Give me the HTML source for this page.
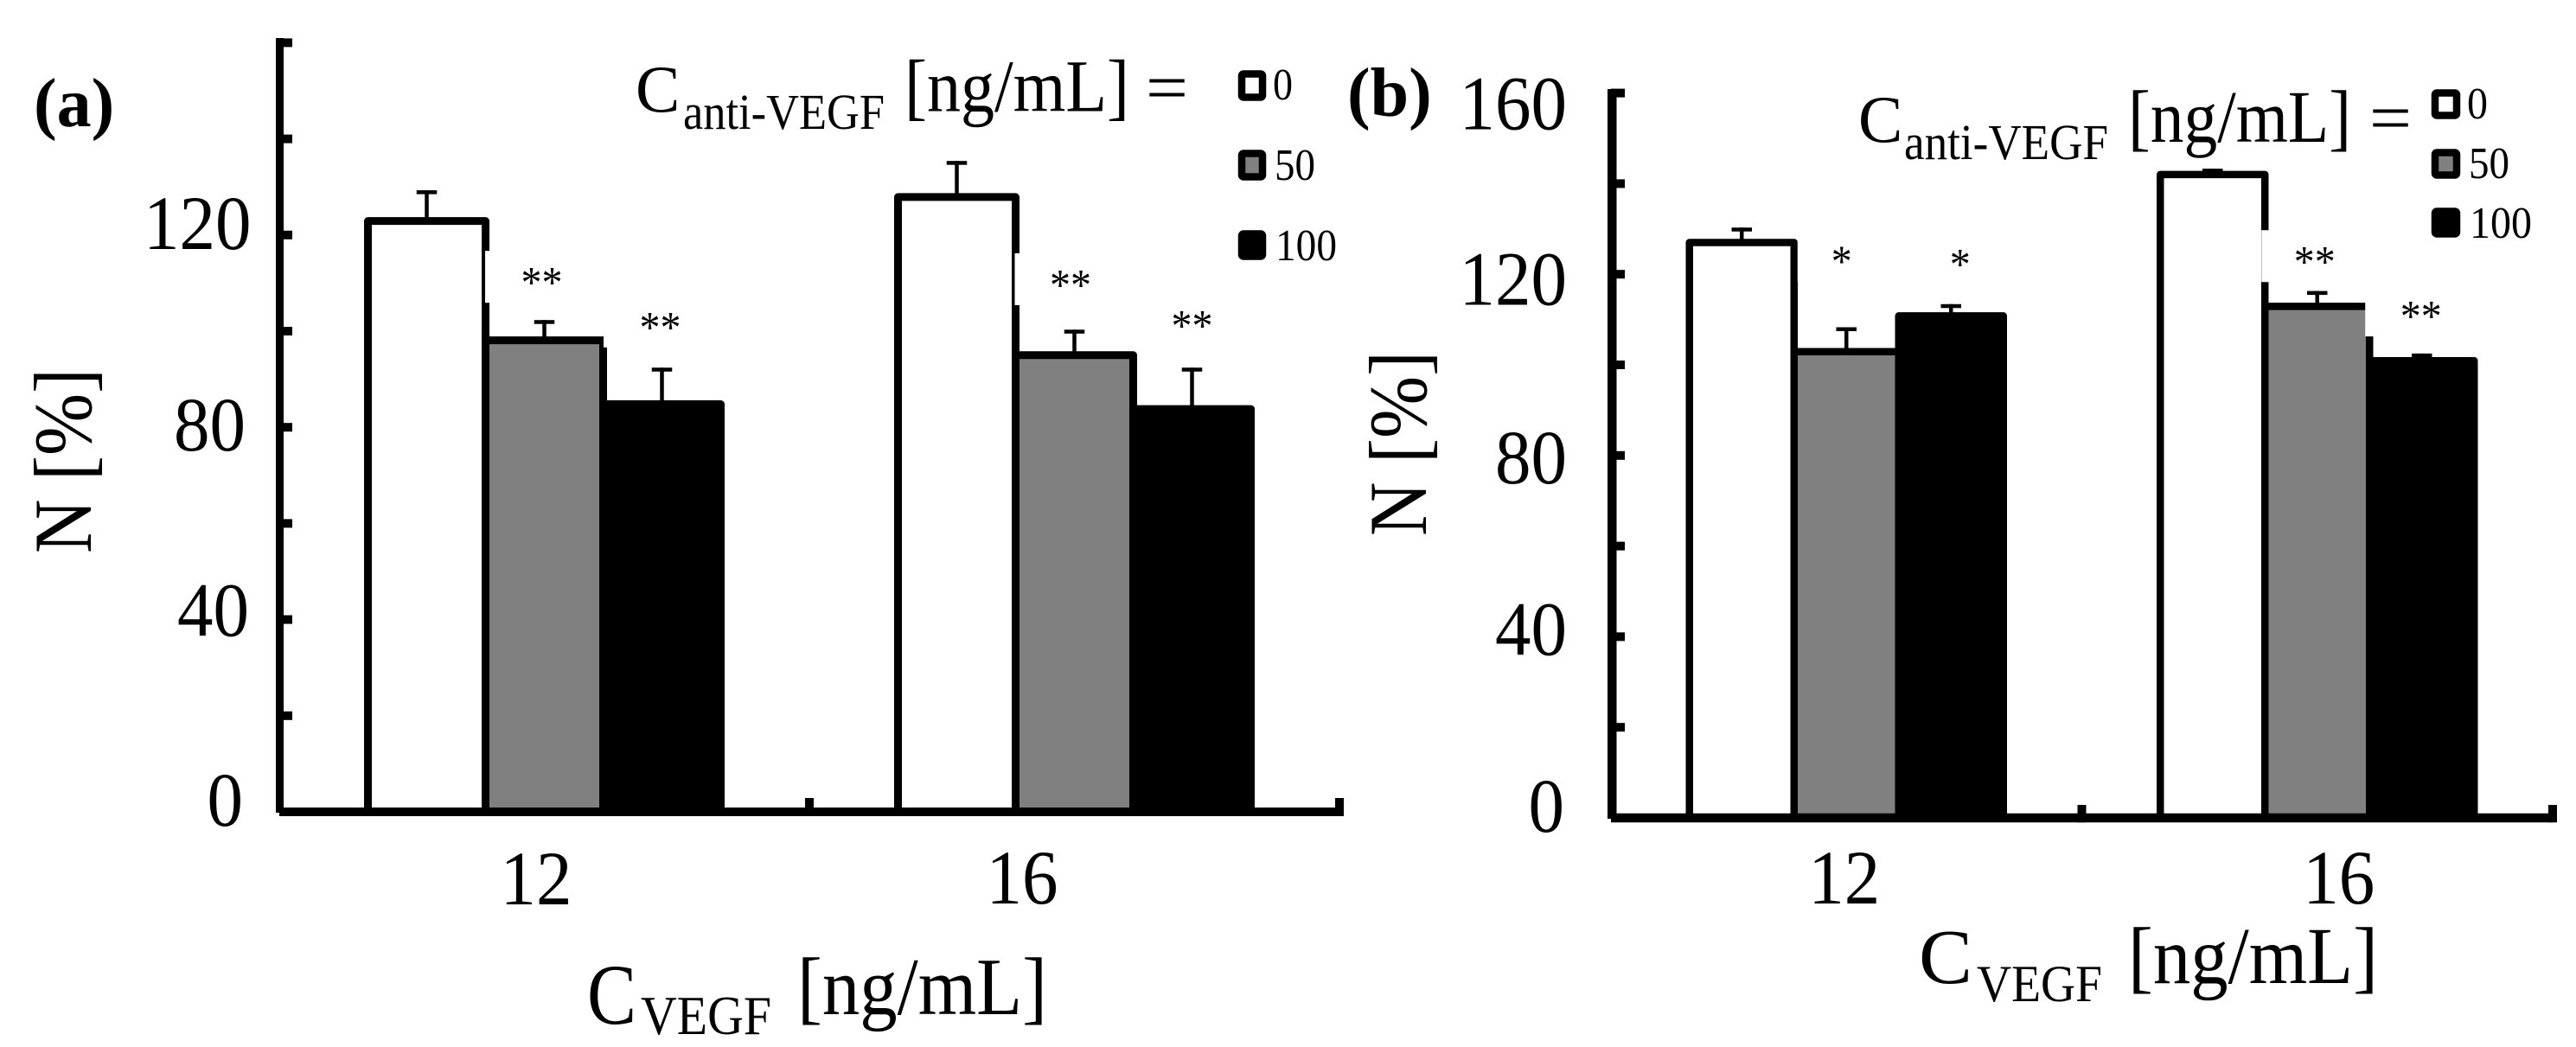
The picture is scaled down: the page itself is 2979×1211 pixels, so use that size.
<!DOCTYPE html>
<html lang="en">
<head>
<meta charset="utf-8">
<title>N versus VEGF concentration</title>
<style>
html,body{margin:0;padding:0;background:#fff;width:2979px;height:1211px;overflow:hidden}
svg{display:block}
text{font-family:"Liberation Serif",serif;fill:#000}
</style>
</head>
<body>
<svg id="figure" xmlns="http://www.w3.org/2000/svg" width="2979" height="1211" viewBox="0 0 2979 1211">
  <rect x="0" y="0" width="2979" height="1211" fill="#fff"/>

  <g id="panel-a"></g>
  <g id="panel-b"></g>

  <!-- panel a static text -->
  <text x="39" y="146" font-size="80" font-weight="bold">(a)</text>
  <text transform="translate(105,640) rotate(-90)" font-size="95" textLength="214" lengthAdjust="spacingAndGlyphs">N [%]</text>
  <g>
    <text x="679" y="1184" font-size="100" textLength="57" lengthAdjust="spacingAndGlyphs">C</text>
    <text x="741" y="1196" font-size="63" textLength="151" lengthAdjust="spacingAndGlyphs">VEGF</text>
    <text x="922" y="1173" font-size="94" textLength="289" lengthAdjust="spacingAndGlyphs">[ng/mL]</text>
  </g>
  <g>
    <text x="735" y="129" font-size="77">C</text>
    <text x="790" y="149" font-size="58" textLength="233" lengthAdjust="spacingAndGlyphs">anti-VEGF</text>
    <text x="1046" y="128.5" font-size="86" textLength="260" lengthAdjust="spacingAndGlyphs">[ng/mL]</text>
    <text x="1325" y="128" font-size="80" textLength="49" lengthAdjust="spacingAndGlyphs">=</text>
  </g>
  <g>
    <g>
      <rect x="1436" y="85.5" width="24" height="27" rx="2" fill="#fff" stroke="#000" stroke-width="8.5"/>
      <text x="1472" y="115" font-size="52" textLength="23" lengthAdjust="spacingAndGlyphs">0</text>
    </g>
    <g>
      <rect x="1436" y="177.5" width="24" height="27" rx="2" fill="#808080" stroke="#000" stroke-width="8.5"/>
      <text x="1474" y="208" font-size="52" textLength="47" lengthAdjust="spacingAndGlyphs">50</text>
    </g>
    <g>
      <rect x="1436" y="270.5" width="24" height="26" rx="2" fill="#000" stroke="#000" stroke-width="8.5"/>
      <text x="1475" y="301" font-size="52" textLength="71" lengthAdjust="spacingAndGlyphs">100</text>
    </g>
  </g>

  <!-- panel b static text -->
  <text x="1558" y="134" font-size="80" font-weight="bold">(b)</text>
  <text transform="translate(1649,620) rotate(-90)" font-size="95" textLength="214" lengthAdjust="spacingAndGlyphs">N [%]</text>
  <g>
    <text x="2219" y="1137" font-size="90" textLength="62" lengthAdjust="spacingAndGlyphs">C</text>
    <text x="2286" y="1158" font-size="60" textLength="145" lengthAdjust="spacingAndGlyphs">VEGF</text>
    <text x="2461" y="1137" font-size="93" textLength="289" lengthAdjust="spacingAndGlyphs">[ng/mL]</text>
  </g>
  <g>
    <text x="2149" y="164" font-size="77">C</text>
    <text x="2202" y="184" font-size="58" textLength="236" lengthAdjust="spacingAndGlyphs">anti-VEGF</text>
    <text x="2461" y="164" font-size="86" textLength="258" lengthAdjust="spacingAndGlyphs">[ng/mL]</text>
    <text x="2740" y="163" font-size="80" textLength="49" lengthAdjust="spacingAndGlyphs">=</text>
  </g>
  <g>
    <g>
      <rect x="2816" y="107.5" width="25" height="26" rx="2" fill="#fff" stroke="#000" stroke-width="8.5"/>
      <text x="2853" y="137" font-size="52" textLength="24" lengthAdjust="spacingAndGlyphs">0</text>
    </g>
    <g>
      <rect x="2816" y="176.5" width="25" height="26" rx="2" fill="#808080" stroke="#000" stroke-width="8.5"/>
      <text x="2855" y="206" font-size="52" textLength="47" lengthAdjust="spacingAndGlyphs">50</text>
    </g>
    <g>
      <rect x="2816" y="244.5" width="25" height="26" rx="2" fill="#000" stroke="#000" stroke-width="8.5"/>
      <text x="2856" y="275" font-size="52" textLength="72" lengthAdjust="spacingAndGlyphs">100</text>
    </g>
  </g>
</svg>

<script>
// ---------- chart data ----------
const categories = ['12', '16'];
const seriesNames = ['0', '50', '100'];
const minorTickValues = [20, 40, 60, 80, 100, 120, 140, 160];

const yTickLabelsA = ['0', '40', '80', '120'];
const meanA0 = [122.9, 127.9];
const meanA50 = [98.1, 95.0];
const meanA100 = [84.8, 83.8];
const errA0 = [6.4, 7.5];
const errA50 = [4.2, 5.3];
const errA100 = [7.6, 8.6];
const starsA50 = ['**', '**'];
const starsA100 = ['**', '**'];
const starLevelA50 = [111.3, 110.8];
const starLevelA100 = [102.0, 102.3];

const yTickLabelsB = ['0', '40', '80', '120', '160'];
const meanB0 = [127.0, 142.0];
const meanB50 = [102.9, 112.9];
const meanB100 = [110.8, 100.9];
const errB0 = [3.3, 1.3];
const errB50 = [5.4, 3.4];
const errB100 = [2.6, 1.6];
const starsB50 = ['*', '**'];
const starsB100 = ['*', '**'];
const starLevelB50 = [124.1, 124.0];
const starLevelB100 = [123.5, 112.0];

// ---------- layout configuration ----------
const digitAdvance = 41.5;
const fills = ['#fff', '#808080', '#000'];
const layoutA = {
  id: 'panel-a', prefix: 'panel-a',
  base: 939, perUnit: 5.56, top: 44,
  axisX: 319, axisW: 9, tickEnd: 338,
  left: 323, band: 613, barStep: 136, barStroke: 9,
  axisH: 10, xTickTop: 923,
  labelRight: {'0': 281, '40': 288, '80': 284, '120': 290.5},
  labelDrop: {'0': 16, '40': 19, '80': 27, '120': 16},
  catDx: [-9.5, -60.5], catBaseline: [1046, 1045],
  starDx50: [-3, -4.5], starDx100: [-2, 0],
  boxInset50: [68.5, 69], boxInset100: [67.5, 68],
  means: [meanA0, meanA50, meanA100],
  errs: [errA0, errA50, errA100],
  stars: [null, starsA50, starsA100],
  starLevels: [null, starLevelA50, starLevelA100],
  tickLabels: yTickLabelsA
};
const layoutB = {
  id: 'panel-b', prefix: 'panel-b',
  base: 946, perUnit: 5.24, top: 103,
  axisX: 1859, axisW: 10.5, tickEnd: 1879,
  left: 1863, band: 544.5, barStep: 121, barStroke: 8.5,
  axisH: 10.5, xTickTop: 931,
  labelRight: {'0': 1809, '40': 1812, '80': 1812, '120': 1812, '160': 1812},
  labelDrop: {'0': 16, '40': 21, '80': 32, '120': 35.5, '160': 42},
  catDx: [-2.5, 25], catBaseline: [1045, 1045],
  starDx50: [-5.5, -3], starDx100: [10.5, -1],
  boxInset50: [56.5, 64.5], boxInset100: [60, 65.5],
  means: [meanB0, meanB50, meanB100],
  errs: [errB0, errB50, errB100],
  stars: [null, starsB50, starsB100],
  starLevels: [null, starLevelB50, starLevelB100],
  tickLabels: yTickLabelsB
};

const SVG_NS = 'http://www.w3.org/2000/svg';
function make(tag, attrs, parent) {
  const el = document.createElementNS(SVG_NS, tag);
  Object.keys(attrs).forEach(function (k) { el.setAttribute(k, attrs[k]); });
  parent.appendChild(el);
  return el;
}

function drawPanel(p) {
  const root = document.getElementById(p.id);
  const yScale = function (v) { return p.base - v * p.perUnit; };
  const bandCenter = function (i) { return p.left + (i + 0.5) * p.band; };
  const barCenter = function (i, s) { return bandCenter(i) + (s - 1) * p.barStep; };
  const half = p.barStep / 2;

  // error bars (below the bars)
  seriesNames.forEach(function (name, s) {
    categories.forEach(function (cat, i) {
      const cx = barCenter(i, s);
      const topY = yScale(p.means[s][i] + p.errs[s][i]);
      const stem = make('rect', {x: cx - 2.25, y: topY, width: 4.5, height: yScale(p.means[s][i]) - topY, fill: '#000'}, root);
      
      
      const cap = make('rect', {x: cx - 11.75, y: topY, width: 23.5, height: 4.5, fill: '#000'}, root);
      
      
    });
  });

  // bars
  seriesNames.forEach(function (name, s) {
    categories.forEach(function (cat, i) {
      const cx = barCenter(i, s);
      const y = yScale(p.means[s][i]);
      const bar = make('rect', {
        x: cx - half, y: y, width: p.barStep, height: p.base - y,
        fill: fills[s], stroke: '#000', 'stroke-width': p.barStroke, 'stroke-linejoin': 'round'
      }, root);
      
      
    });
  });

  // significance stars, each with its white backing box
  [1, 2].forEach(function (s) {
    const insets = s === 1 ? p.boxInset50 : p.boxInset100;
    const dxs = s === 1 ? p.starDx50 : p.starDx100;
    categories.forEach(function (cat, i) {
      const cx = barCenter(i, s);
      const cy = yScale(p.starLevels[s][i]);
      const box = make('rect', {x: cx - insets[i], y: cy - 30, width: insets[i] + half, height: 60, fill: '#fff'}, root);
      
      
      const star = make('text', {x: cx + dxs[i], y: cy + 24, 'font-size': 52, 'text-anchor': 'middle', textLength: p.stars[s][i].length * 24, lengthAdjust: 'spacingAndGlyphs'}, root);
      
      
      star.textContent = p.stars[s][i];
    });
  });

  // axes
  const yAxis = make('rect', {x: p.axisX, y: p.top, width: p.axisW, height: p.base + 1 - p.top, fill: '#000'}, root);
  
  
  const xAxis = make('rect', {
    x: p.left, y: p.base - p.axisH / 2, width: p.band * categories.length, height: p.axisH, fill: '#000'
  }, root);
  
  

  minorTickValues.forEach(function (v) {
    const tick = make('rect', {x: p.axisX + 4, y: yScale(v) - 5, width: p.tickEnd - p.axisX - 4, height: 10, fill: '#000'}, root);
    
    
  });

  categories.forEach(function (cat, i) {
    const tx = p.left + (i + 1) * p.band;
    const tick = make('rect', {x: tx - 5, y: p.xTickTop, width: 10, height: p.base + p.axisH / 2 - p.xTickTop, fill: '#000'}, root);
    
    
    const label = make('text', {x: bandCenter(i) + p.catDx[i], y: p.catBaseline[i], 'font-size': 89, 'text-anchor': 'middle', textLength: cat.length * digitAdvance, lengthAdjust: 'spacingAndGlyphs'}, root);
    
    
    label.textContent = cat;
  });

  p.tickLabels.forEach(function (text) {
    const label = make('text', {
      x: p.labelRight[text], y: yScale(Number(text)) + p.labelDrop[text],
      'font-size': 89, 'text-anchor': 'end', textLength: text.length * digitAdvance, lengthAdjust: 'spacingAndGlyphs'
    }, root);
    
    
    label.textContent = text;
  });
}

drawPanel(layoutA);
drawPanel(layoutB);
</script>
</body>
</html>
